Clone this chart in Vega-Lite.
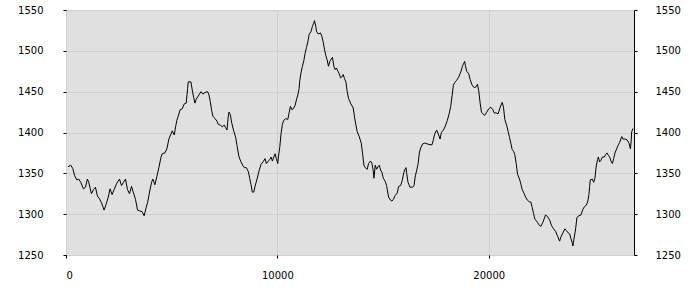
{
  "$schema": "https://vega.github.io/schema/vega-lite/v6.json",
  "width": 568,
  "height": 245,
  "autosize": {"type": "none"},
  "padding": {"left": 66, "top": 10, "right": 66, "bottom": 45},
  "background": "white",
  "config": {
    "view": {"fill": "#e0e0e0", "stroke": "#000000", "strokeWidth": 1},
    "axis": {
      "labelFont": "DejaVu Sans",
      "labelFontSize": 10,
      "labelColor": "#000000",
      "tickColor": "#000000",
      "tickSize": 3,
      "domain": false,
      "gridColor": "#cfcfcf",
      "gridWidth": 1,
      "title": null
    },
    "axisLeft": {"labelPadding": 20},
    "axisRight": {"labelPadding": 18},
    "axisBottom": {"labelPadding": 12}
  },
  "data": {"values": [
    {"x":95,"y":1358},{"x":223,"y":1360},{"x":318,"y":1356},{"x":412,"y":1347},{"x":507,"y":1342},{"x":602,"y":1343},{"x":697,"y":1339},{"x":825,"y":1331},{"x":919,"y":1333},{"x":1014,"y":1343},{"x":1076,"y":1339},{"x":1204,"y":1325},{"x":1299,"y":1330},{"x":1393,"y":1333},{"x":1488,"y":1322},{"x":1583,"y":1319},{"x":1678,"y":1314},{"x":1801,"y":1305},{"x":1896,"y":1312},{"x":1991,"y":1320},{"x":2085,"y":1331},{"x":2180,"y":1324},{"x":2275,"y":1330},{"x":2403,"y":1338},{"x":2531,"y":1343},{"x":2625,"y":1335},{"x":2720,"y":1339},{"x":2815,"y":1343},{"x":2910,"y":1330},{"x":3005,"y":1325},{"x":3099,"y":1334},{"x":3194,"y":1326},{"x":3289,"y":1318},{"x":3384,"y":1305},{"x":3478,"y":1304},{"x":3602,"y":1303},{"x":3697,"y":1298},{"x":3791,"y":1308},{"x":3858,"y":1314},{"x":3952,"y":1327},{"x":4047,"y":1339},{"x":4109,"y":1343},{"x":4204,"y":1336},{"x":4298,"y":1346},{"x":4393,"y":1357},{"x":4488,"y":1369},{"x":4551,"y":1374},{"x":4678,"y":1375},{"x":4772,"y":1380},{"x":4867,"y":1392},{"x":4962,"y":1398},{"x":5025,"y":1402},{"x":5120,"y":1397},{"x":5184,"y":1407},{"x":5246,"y":1415},{"x":5308,"y":1420},{"x":5403,"y":1428},{"x":5497,"y":1429},{"x":5592,"y":1435},{"x":5687,"y":1436},{"x":5754,"y":1454},{"x":5782,"y":1462},{"x":5910,"y":1462},{"x":5972,"y":1452},{"x":6038,"y":1443},{"x":6099,"y":1436},{"x":6161,"y":1441},{"x":6289,"y":1446},{"x":6384,"y":1450},{"x":6478,"y":1447},{"x":6573,"y":1449},{"x":6700,"y":1450},{"x":6763,"y":1446},{"x":6824,"y":1438},{"x":6891,"y":1427},{"x":6952,"y":1420},{"x":7047,"y":1417},{"x":7142,"y":1414},{"x":7204,"y":1410},{"x":7298,"y":1409},{"x":7393,"y":1407},{"x":7488,"y":1409},{"x":7551,"y":1406},{"x":7616,"y":1403},{"x":7677,"y":1420},{"x":7710,"y":1425},{"x":7772,"y":1422},{"x":7838,"y":1412},{"x":7933,"y":1402},{"x":8028,"y":1394},{"x":8090,"y":1384},{"x":8184,"y":1370},{"x":8279,"y":1364},{"x":8374,"y":1359},{"x":8436,"y":1357},{"x":8531,"y":1357},{"x":8626,"y":1352},{"x":8690,"y":1344},{"x":8753,"y":1336},{"x":8815,"y":1327},{"x":8880,"y":1327},{"x":8943,"y":1334},{"x":9037,"y":1343},{"x":9132,"y":1353},{"x":9227,"y":1361},{"x":9322,"y":1364},{"x":9417,"y":1368},{"x":9478,"y":1362},{"x":9544,"y":1364},{"x":9639,"y":1367},{"x":9701,"y":1370},{"x":9763,"y":1365},{"x":9829,"y":1370},{"x":9890,"y":1374},{"x":9952,"y":1368},{"x":10018,"y":1362},{"x":10047,"y":1370},{"x":10113,"y":1382},{"x":10175,"y":1399},{"x":10236,"y":1410},{"x":10303,"y":1415},{"x":10397,"y":1417},{"x":10492,"y":1416},{"x":10554,"y":1424},{"x":10616,"y":1432},{"x":10682,"y":1428},{"x":10744,"y":1429},{"x":10838,"y":1433},{"x":10900,"y":1440},{"x":10967,"y":1446},{"x":11028,"y":1454},{"x":11061,"y":1464},{"x":11123,"y":1474},{"x":11184,"y":1481},{"x":11251,"y":1488},{"x":11312,"y":1497},{"x":11374,"y":1504},{"x":11440,"y":1511},{"x":11502,"y":1520},{"x":11597,"y":1524},{"x":11658,"y":1530},{"x":11725,"y":1534},{"x":11753,"y":1537},{"x":11819,"y":1530},{"x":11848,"y":1524},{"x":11914,"y":1521},{"x":11976,"y":1521},{"x":12037,"y":1522},{"x":12103,"y":1518},{"x":12165,"y":1511},{"x":12227,"y":1502},{"x":12293,"y":1494},{"x":12355,"y":1489},{"x":12416,"y":1481},{"x":12483,"y":1487},{"x":12544,"y":1490},{"x":12606,"y":1492},{"x":12672,"y":1481},{"x":12734,"y":1477},{"x":12795,"y":1479},{"x":12862,"y":1475},{"x":12924,"y":1472},{"x":12985,"y":1467},{"x":13051,"y":1468},{"x":13113,"y":1471},{"x":13175,"y":1466},{"x":13241,"y":1462},{"x":13303,"y":1450},{"x":13364,"y":1442},{"x":13459,"y":1436},{"x":13587,"y":1430},{"x":13648,"y":1419},{"x":13715,"y":1409},{"x":13776,"y":1401},{"x":13871,"y":1395},{"x":13966,"y":1387},{"x":14027,"y":1375},{"x":14093,"y":1360},{"x":14155,"y":1357},{"x":14250,"y":1355},{"x":14312,"y":1362},{"x":14407,"y":1365},{"x":14473,"y":1362},{"x":14535,"y":1353},{"x":14568,"y":1344},{"x":14630,"y":1360},{"x":14691,"y":1355},{"x":14757,"y":1358},{"x":14819,"y":1360},{"x":14881,"y":1354},{"x":14947,"y":1351},{"x":15009,"y":1344},{"x":15103,"y":1340},{"x":15165,"y":1335},{"x":15198,"y":1330},{"x":15260,"y":1321},{"x":15355,"y":1317},{"x":15421,"y":1316},{"x":15483,"y":1318},{"x":15577,"y":1323},{"x":15672,"y":1326},{"x":15734,"y":1334},{"x":15829,"y":1335},{"x":15895,"y":1340},{"x":15957,"y":1348},{"x":16018,"y":1354},{"x":16085,"y":1357},{"x":16113,"y":1351},{"x":16179,"y":1339},{"x":16274,"y":1333},{"x":16397,"y":1333},{"x":16463,"y":1335},{"x":16525,"y":1347},{"x":16586,"y":1353},{"x":16653,"y":1361},{"x":16715,"y":1375},{"x":16776,"y":1381},{"x":16871,"y":1386},{"x":16966,"y":1387},{"x":17094,"y":1386},{"x":17222,"y":1385},{"x":17317,"y":1385},{"x":17378,"y":1391},{"x":17440,"y":1398},{"x":17535,"y":1403},{"x":17630,"y":1397},{"x":17696,"y":1392},{"x":17758,"y":1400},{"x":17852,"y":1403},{"x":17947,"y":1408},{"x":18042,"y":1415},{"x":18136,"y":1424},{"x":18199,"y":1432},{"x":18264,"y":1445},{"x":18326,"y":1458},{"x":18387,"y":1461},{"x":18482,"y":1464},{"x":18577,"y":1468},{"x":18672,"y":1474},{"x":18767,"y":1482},{"x":18862,"y":1487},{"x":18894,"y":1482},{"x":18956,"y":1475},{"x":19051,"y":1472},{"x":19117,"y":1465},{"x":19212,"y":1458},{"x":19307,"y":1455},{"x":19402,"y":1456},{"x":19464,"y":1459},{"x":19526,"y":1451},{"x":19592,"y":1436},{"x":19653,"y":1425},{"x":19715,"y":1423},{"x":19810,"y":1421},{"x":19904,"y":1425},{"x":19999,"y":1429},{"x":20094,"y":1431},{"x":20189,"y":1428},{"x":20255,"y":1424},{"x":20350,"y":1424},{"x":20445,"y":1423},{"x":20540,"y":1431},{"x":20635,"y":1437},{"x":20696,"y":1431},{"x":20758,"y":1416},{"x":20853,"y":1408},{"x":20919,"y":1401},{"x":20980,"y":1394},{"x":21042,"y":1387},{"x":21108,"y":1379},{"x":21170,"y":1377},{"x":21231,"y":1373},{"x":21298,"y":1362},{"x":21360,"y":1349},{"x":21454,"y":1343},{"x":21516,"y":1337},{"x":21582,"y":1330},{"x":21677,"y":1325},{"x":21739,"y":1321},{"x":21833,"y":1317},{"x":21928,"y":1315},{"x":21990,"y":1315},{"x":22056,"y":1308},{"x":22118,"y":1301},{"x":22180,"y":1294},{"x":22212,"y":1293},{"x":22307,"y":1290},{"x":22369,"y":1287},{"x":22464,"y":1285},{"x":22559,"y":1290},{"x":22686,"y":1299},{"x":22781,"y":1297},{"x":22876,"y":1293},{"x":22970,"y":1286},{"x":23065,"y":1282},{"x":23160,"y":1279},{"x":23255,"y":1273},{"x":23350,"y":1267},{"x":23412,"y":1272},{"x":23506,"y":1277},{"x":23601,"y":1282},{"x":23667,"y":1280},{"x":23762,"y":1277},{"x":23823,"y":1276},{"x":23885,"y":1270},{"x":23951,"y":1265},{"x":23979,"y":1261},{"x":24045,"y":1272},{"x":24108,"y":1282},{"x":24170,"y":1296},{"x":24264,"y":1298},{"x":24359,"y":1299},{"x":24454,"y":1306},{"x":24520,"y":1309},{"x":24615,"y":1311},{"x":24677,"y":1315},{"x":24738,"y":1324},{"x":24771,"y":1334},{"x":24804,"y":1342},{"x":24899,"y":1343},{"x":24961,"y":1339},{"x":25022,"y":1344},{"x":25088,"y":1360},{"x":25150,"y":1367},{"x":25183,"y":1370},{"x":25245,"y":1364},{"x":25307,"y":1366},{"x":25373,"y":1370},{"x":25468,"y":1370},{"x":25530,"y":1373},{"x":25592,"y":1375},{"x":25658,"y":1372},{"x":25719,"y":1370},{"x":25781,"y":1365},{"x":25847,"y":1362},{"x":25909,"y":1368},{"x":25970,"y":1375},{"x":26065,"y":1381},{"x":26131,"y":1385},{"x":26193,"y":1388},{"x":26288,"y":1395},{"x":26350,"y":1392},{"x":26444,"y":1392},{"x":26539,"y":1391},{"x":26634,"y":1387},{"x":26700,"y":1380},{"x":26729,"y":1387},{"x":26762,"y":1401},{"x":26824,"y":1405}
  ]},
  "layer": [
    {
      "mark": {"type": "line", "color": "#000000", "strokeWidth": 1, "interpolate": "linear"},
      "encoding": {
        "x": {"field": "x", "type": "quantitative",
              "scale": {"domain": [0, 26870], "nice": false, "zero": false},
              "axis": {"values": [0, 10000, 20000], "format": "d", "grid": true, "orient": "bottom"}},
        "y": {"field": "y", "type": "quantitative",
              "scale": {"domain": [1250, 1550], "nice": false, "zero": false},
              "axis": {"values": [1250, 1300, 1350, 1400, 1450, 1500, 1550], "format": "d", "orient": "left", "grid": true}}
      }
    },
    {
      "mark": {"type": "line", "opacity": 0},
      "encoding": {
        "x": {"field": "x", "type": "quantitative",
              "scale": {"domain": [0, 26870], "nice": false, "zero": false},
              "axis": {"values": [0, 10000, 20000], "format": "d", "grid": true, "orient": "bottom"}},
        "y": {"field": "y", "type": "quantitative",
              "scale": {"domain": [1250, 1550], "nice": false, "zero": false},
              "axis": {"values": [1250, 1300, 1350, 1400, 1450, 1500, 1550], "format": "d", "orient": "right", "grid": false}}
      }
    }
  ],
  "resolve": {"axis": {"y": "independent"}}
}
